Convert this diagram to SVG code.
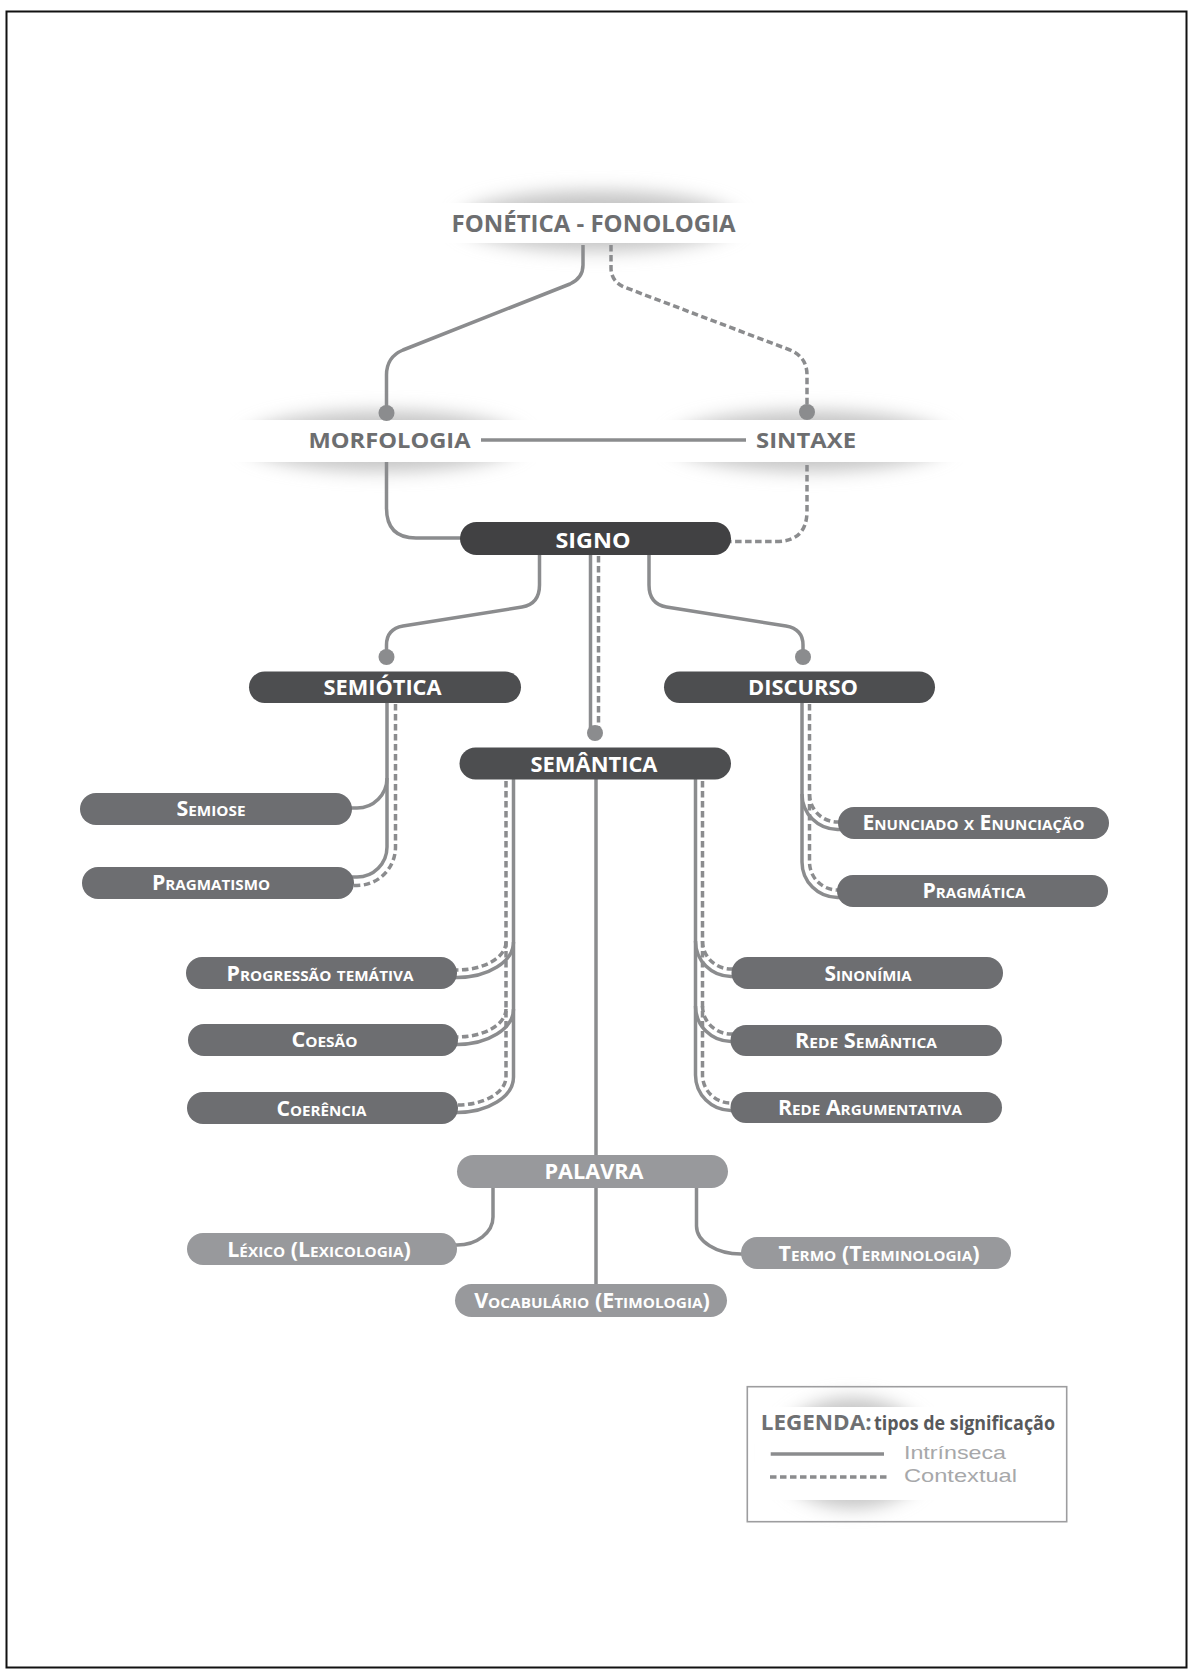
<svg xmlns="http://www.w3.org/2000/svg" width="1190" height="1671" viewBox="0 0 1190 1671">
<defs>
<style>
.bx0{fill:#414143}
.bx1{fill:#4d4e50}
.bx2{fill:#6d6e71}
.bx3{fill:#98999c}
.t{font-family:"Open Sans","Liberation Sans",sans-serif;font-weight:700;fill:#ffffff;text-anchor:middle}
.sc{font-variant:small-caps}
.lb{font-family:"Open Sans","Liberation Sans",sans-serif;font-weight:700;fill:#6d6e70}
.c{fill:none;stroke:#8b8c8e;stroke-width:3.5;stroke-linejoin:round}
.d{stroke-dasharray:6.5 3.5}
.dot{fill:#8b8c8e}
.sh{fill:#c4c4c4;filter:url(#blur)}
.band{fill:#ffffff}
.lg{font-family:"Liberation Sans","Open Sans",sans-serif;fill:#a7a8aa}
</style>
<filter id="blur" x="-50%" y="-100%" width="200%" height="300%"><feGaussianBlur stdDeviation="9"/></filter>
</defs>
<rect x="0" y="0" width="1190" height="1671" fill="#ffffff"/>
<rect x="6.5" y="11.5" width="1180" height="1656" fill="none" stroke="#111111" stroke-width="2"/>

<g id="fonetica">
<ellipse class="sh" cx="598" cy="221" rx="140" ry="30"/>
<rect class="band" x="380" y="203" width="440" height="40"/>
<text class="lb" x="593.6" y="232" font-size="24" text-anchor="middle" textLength="284" lengthAdjust="spacingAndGlyphs">FONÉTICA - FONOLOGIA</text>
</g>
<g id="morfologia">
<ellipse class="sh" cx="383" cy="441" rx="140" ry="30"/>
<rect class="band" x="200" y="420" width="370" height="42"/>
<text class="lb" x="389.5" y="448" font-size="21" text-anchor="middle" textLength="162" lengthAdjust="spacingAndGlyphs">MORFOLOGIA</text>
</g>
<g id="sintaxe">
<ellipse class="sh" cx="810" cy="441" rx="140" ry="30"/>
<rect class="band" x="640" y="420" width="350" height="42"/>
<text class="lb" x="806" y="448" font-size="21" text-anchor="middle" textLength="100" lengthAdjust="spacingAndGlyphs">SINTAXE</text>
</g>

<g id="connectors">
<path class="c" d="M583,245 V265 Q583,278 570,284 L403,350 Q386.5,357 386.5,375 V413"/>
<path class="c d" d="M611,245 V268 Q611,281 624,287 L790,350 Q807,357 807,375 V412"/>
<circle class="dot" cx="386.5" cy="413" r="8"/>
<circle class="dot" cx="807" cy="412" r="8"/>
<path class="c" d="M481,440 H746"/>
<path class="c" d="M386.5,462 V508 Q386.5,538 416,538 H470"/>
<path class="c d" d="M807,465 V511 Q807,541.5 776,541.5 H722"/>
<path class="c" d="M539.5,550 V585 Q539.5,604 522,607 L403,626 Q386.5,629 386.5,645 V657"/>
<path class="c" d="M649,550 V585 Q649,604 666.5,607 L786,626 Q803,629 803,645 V657"/>
<circle class="dot" cx="386.5" cy="657" r="8"/>
<circle class="dot" cx="803" cy="657" r="8"/>
<path class="c" d="M590.5,550 V733"/>
<path class="c d" d="M598.5,556 V728"/>
<circle class="dot" cx="595" cy="733" r="8"/>

<path class="c" d="M387,700 V847 A30,30 0 0 1 357,877 H345"/>
<path class="c" d="M387,778 A30,30 0 0 1 357,808 H345"/>
<path class="c d" d="M395.5,704 V847 A38.5,38.5 0 0 1 357,885.5 H345"/>

<path class="c" d="M802,700 V862 A35.5,35.5 0 0 0 837.5,897.5 H848"/>
<path class="c" d="M802,794 A35.5,35.5 0 0 0 837.5,829.5 H848"/>
<path class="c d" d="M809.5,704 V862 A28,28 0 0 0 837.5,890 H848"/>
<path class="c d" d="M809.5,794 A28,28 0 0 0 837.5,822 H848"/>

<path class="c" d="M513.5,778 V1077 A56.5,35.5 0 0 1 457,1112.5 H450"/>
<path class="c" d="M513.5,942 A56.5,35.5 0 0 1 457,977.5 H450"/>
<path class="c" d="M513.5,1009 A56.5,35.5 0 0 1 457,1044.5 H450"/>
<path class="c d" d="M506,781 V1077 A49,28 0 0 1 457,1105 H450"/>
<path class="c d" d="M506,942 A49,28 0 0 1 457,970 H450"/>
<path class="c d" d="M506,1009 A49,28 0 0 1 457,1037 H450"/>

<path class="c" d="M695.5,778 V1075 A35.5,35.5 0 0 0 731,1110.5 H740"/>
<path class="c" d="M695.5,941 A35.5,35.5 0 0 0 731,976.5 H740"/>
<path class="c" d="M695.5,1006 A35.5,35.5 0 0 0 731,1041.5 H740"/>
<path class="c d" d="M702.5,781 V1075 A28.5,28 0 0 0 731,1103 H740"/>
<path class="c d" d="M702.5,941 A28.5,28 0 0 0 731,969 H740"/>
<path class="c d" d="M702.5,1006 A28.5,28 0 0 0 731,1034 H740"/>

<path class="c" d="M596,778 V1290"/>
<path class="c" d="M493,1186 V1217 A36,28 0 0 1 457,1245 H450"/>
<path class="c" d="M696.5,1186 V1226 A44.5,28 0 0 0 741,1254 H750"/>
</g>

<g id="signo"><rect class="bx0" x="460" y="522" width="271" height="33" rx="16.5"/><text class="t" x="593" y="547.5" font-size="22" textLength="75" lengthAdjust="spacingAndGlyphs">SIGNO</text></g>
<g id="semiotica"><rect class="bx1" x="249" y="671.5" width="272" height="31.5" rx="15.75"/><text class="t" x="382.5" y="695" font-size="21" textLength="118" lengthAdjust="spacingAndGlyphs">SEMIÓTICA</text></g>
<g id="discurso"><rect class="bx1" x="664" y="671.5" width="271" height="31.5" rx="15.75"/><text class="t" x="803" y="695" font-size="21" textLength="110" lengthAdjust="spacingAndGlyphs">DISCURSO</text></g>
<g id="semantica"><rect class="bx1" x="459.5" y="747.5" width="271.5" height="32" rx="16"/><text class="t" x="594" y="771.5" font-size="21" textLength="127" lengthAdjust="spacingAndGlyphs">SEMÂNTICA</text></g>

<g id="semiose"><rect class="bx2" x="80" y="793" width="272" height="32" rx="16"/><text class="t sc" x="211" y="815.5" font-size="21" textLength="69" lengthAdjust="spacingAndGlyphs">Semiose</text></g>
<g id="pragmatismo"><rect class="bx2" x="82" y="867" width="272" height="32" rx="16"/><text class="t sc" x="211" y="890" font-size="21" textLength="118" lengthAdjust="spacingAndGlyphs">Pragmatismo</text></g>
<g id="enunciado"><rect class="bx2" x="838" y="807" width="271" height="32" rx="16"/><text class="t sc" x="973.5" y="830" font-size="21" textLength="222" lengthAdjust="spacingAndGlyphs">Enunciado x Enunciação</text></g>
<g id="pragmatica"><rect class="bx2" x="837" y="875" width="271" height="32" rx="16"/><text class="t sc" x="974" y="898" font-size="21" textLength="103" lengthAdjust="spacingAndGlyphs">Pragmática</text></g>
<g id="progressao"><rect class="bx2" x="186" y="957" width="271" height="32" rx="16"/><text class="t sc" x="320" y="980.5" font-size="21" textLength="187" lengthAdjust="spacingAndGlyphs">Progressão temátiva</text></g>
<g id="coesao"><rect class="bx2" x="188" y="1024" width="270" height="32" rx="16"/><text class="t sc" x="324.5" y="1047" font-size="21" textLength="66" lengthAdjust="spacingAndGlyphs">Coesão</text></g>
<g id="coerencia"><rect class="bx2" x="187" y="1092" width="271" height="32" rx="16"/><text class="t sc" x="321.5" y="1115.5" font-size="21" textLength="90" lengthAdjust="spacingAndGlyphs">Coerência</text></g>
<g id="sinonimia"><rect class="bx2" x="731.5" y="957" width="271.5" height="32" rx="16"/><text class="t sc" x="868" y="981" font-size="21" textLength="87" lengthAdjust="spacingAndGlyphs">Sinonímia</text></g>
<g id="rede-semantica"><rect class="bx2" x="730.5" y="1025" width="271.5" height="31" rx="15.5"/><text class="t sc" x="866" y="1048" font-size="21" textLength="142" lengthAdjust="spacingAndGlyphs">Rede Semântica</text></g>
<g id="rede-argumentativa"><rect class="bx2" x="730.5" y="1092" width="271.5" height="31" rx="15.5"/><text class="t sc" x="870" y="1115" font-size="21" textLength="184" lengthAdjust="spacingAndGlyphs">Rede Argumentativa</text></g>

<g id="palavra"><rect class="bx3" x="457" y="1155" width="271" height="33" rx="16.5"/><text class="t" x="594" y="1179" font-size="21" textLength="99" lengthAdjust="spacingAndGlyphs">PALAVRA</text></g>
<g id="lexico"><rect class="bx3" x="187" y="1233" width="270" height="32" rx="16"/><text class="t sc" x="319" y="1256.5" font-size="21" textLength="183.5" lengthAdjust="spacingAndGlyphs">Léxico (Lexicologia)</text></g>
<g id="termo"><rect class="bx3" x="741" y="1237" width="270" height="32" rx="16"/><text class="t sc" x="879" y="1260.5" font-size="21" textLength="201" lengthAdjust="spacingAndGlyphs">Termo (Terminologia)</text></g>
<g id="vocabulario"><rect class="bx3" x="455" y="1284" width="272" height="33" rx="16.5"/><text class="t sc" x="592" y="1308" font-size="21" textLength="235.7" lengthAdjust="spacingAndGlyphs">Vocabulário (Etimologia)</text></g>

<g id="legend">
<rect x="747.3" y="1386.7" width="319.4" height="135" fill="#ffffff" stroke="#9d9d9f" stroke-width="1.6"/>
<ellipse class="sh" cx="853" cy="1453" rx="78" ry="55"/>
<rect class="band" x="755" y="1407" width="305" height="93"/>
<text class="lb" x="760.7" y="1430" font-size="21" textLength="111" lengthAdjust="spacingAndGlyphs" style="fill:#6f7072">LEGENDA:</text>
<text class="lb" x="874" y="1430" font-size="19" textLength="181" lengthAdjust="spacingAndGlyphs" style="fill:#58595b">tipos de significação</text>
<path class="c" d="M770.7,1454 H884" stroke-width="3"/>
<path class="c d" d="M770,1477 H887"/>
<text class="lg" x="904" y="1458.5" font-size="18.5" textLength="102" lengthAdjust="spacingAndGlyphs">Intrínseca</text>
<text class="lg" x="904" y="1482" font-size="18.5" textLength="113" lengthAdjust="spacingAndGlyphs">Contextual</text>
</g>
</svg>
